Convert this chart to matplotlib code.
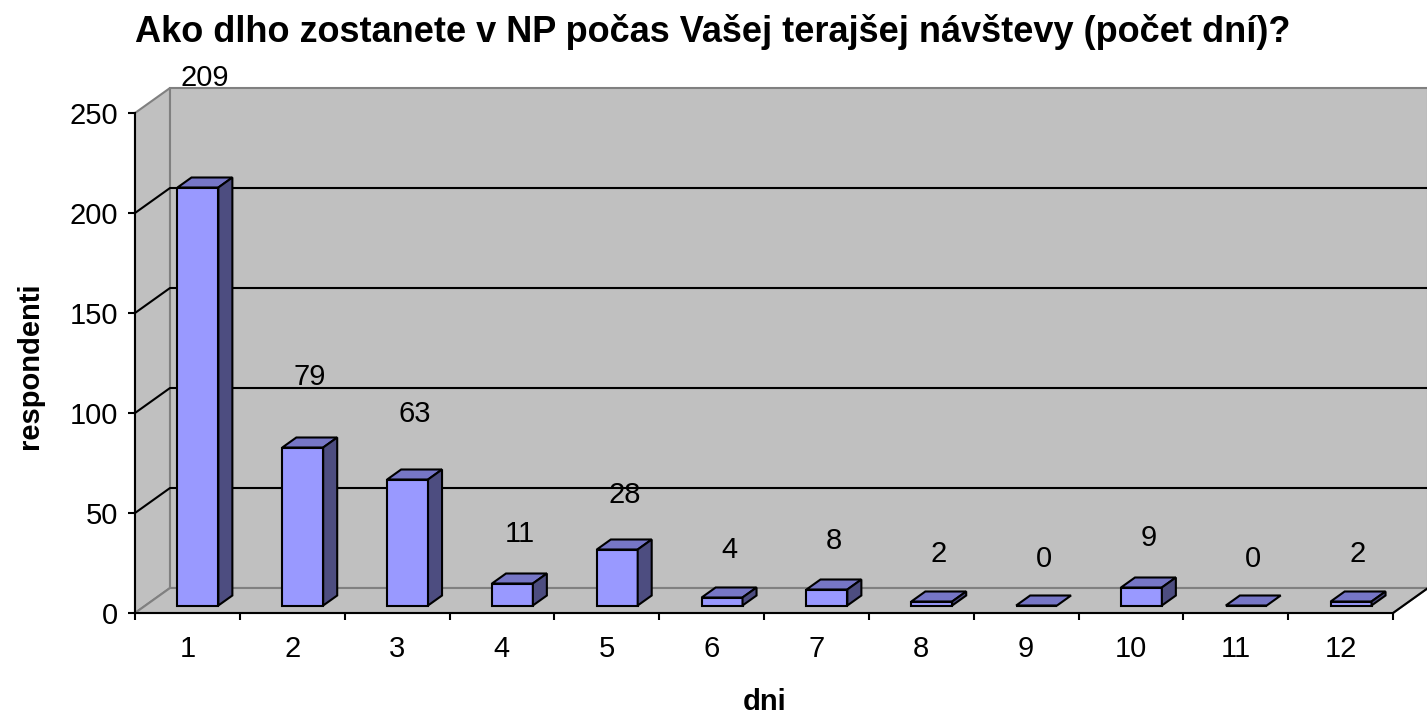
import matplotlib
matplotlib.use("Agg")
import matplotlib.pyplot as plt
from matplotlib.patches import Polygon
import numpy as np

plt.rcParams['font.family'] = ['Liberation Sans', 'DejaVu Sans']

# ── data ──────────────────────────────────────────
days = [1, 2, 3, 4, 5, 6, 7, 8, 9, 10, 11, 12]
respondents = [209, 79, 63, 11, 28, 4, 8, 2, 0, 9, 0, 2]
title = "Ako dlho zostanete v NP počas Vašej terajšej návštevy (počet dní)?"
xlabel = "dni"
ylabel = "respondenti"

# ── 3D look (Excel style) ─────────────────────────
DX, DY = 0.334, 12.5          # depth of the floor / walls in data units
front = 0.30                   # where bars start in the depth
depth = 0.40                   # bar depth as share of the full depth
bw = 0.39                      # bar width
wall = '#C0C0C0'
wall_edge = '#808080'
c_front, c_top, c_side = '#9999FF', '#7676C6', '#4D4D80'

fig = plt.figure(figsize=(14.27, 7.16), dpi=100)
ax = fig.add_axes([135 / 1427, 103 / 716, 1258 / 1427, 500 / 716])
ax.set_xlim(0.5, 12.5)
ax.set_ylim(0, 250)
ax.patch.set_visible(False)

x0, x1 = 0.5, 12.5
ymax = 250
# walls + floor
left_wall = Polygon([(x0, 0), (x0 + DX, DY), (x0 + DX, ymax + DY), (x0, ymax)],
                    closed=True, fc=wall, ec=wall_edge, lw=1.5, clip_on=False, zorder=0.5)
back_wall = Polygon([(x0 + DX, DY), (x1 + DX, DY), (x1 + DX, ymax + DY), (x0 + DX, ymax + DY)],
                    closed=True, fc=wall, ec=wall_edge, lw=1.5, clip_on=False, zorder=0.5)
floor = Polygon([(x0, 0), (x1, 0), (x1 + DX, DY), (x0 + DX, DY)],
                closed=True, fc=wall, ec=wall_edge, lw=1.5, clip_on=False, zorder=0.6)
for p in (left_wall, back_wall, floor):
    ax.add_patch(p)
ax.plot([x1, x1 + DX], [0, DY], color='black', lw=1.5, clip_on=False, zorder=0.7)

# gridlines
for v in [50, 100, 150, 200]:
    ax.plot([x0, x0 + DX, x1 + DX], [v, v + DY, v + DY], color='black', lw=1.5,
            clip_on=False, zorder=0.8)

# bars
xs = np.array(days, dtype=float)
vals = np.array(respondents, dtype=float)
fx = xs + front * DX
fy = front * DY
ddx, ddy = depth * DX, depth * DY
ax.bar(fx, vals, width=bw, bottom=fy, color=c_front, edgecolor='black', lw=1.5, zorder=3)
for cx, v in zip(fx, vals):
    l, r = cx - bw / 2, cx + bw / 2
    top = fy + v
    ax.add_patch(Polygon([(l, top), (r, top), (r + ddx, top + ddy), (l + ddx, top + ddy)],
                         closed=True, fc=c_top, ec='black', lw=1.5, zorder=3, clip_on=False))
    if v > 0:
        ax.add_patch(Polygon([(r, fy), (r + ddx, fy + ddy), (r + ddx, top + ddy), (r, top)],
                             closed=True, fc=c_side, ec='black', lw=1.5, zorder=3, clip_on=False))

# value labels
for cx, v in zip(fx, vals):
    ax.text(cx + ddx / 2, v * 1.15 + 27, f"{int(v)}", ha='center', va='center',
            fontsize=21, clip_on=False, zorder=4)

# axes
for s in ['top', 'right']:
    ax.spines[s].set_visible(False)
for s in ['left', 'bottom']:
    ax.spines[s].set_linewidth(1.5)
    ax.spines[s].set_zorder(2)
ax.set_yticks([0, 50, 100, 150, 200, 250])
ax.tick_params(axis='y', direction='out', length=5, width=1.5, labelsize=21, pad=7)
ax.set_xticks(np.arange(0.5, 13, 1))
ax.set_xticklabels([])
ax.tick_params(axis='x', which='major', direction='out', length=5, width=1.5)
ax.set_xticks(days, minor=True)
ax.set_xticklabels([str(d) for d in days], minor=True)
ax.tick_params(axis='x', which='minor', length=0, labelsize=21, pad=16)

fig.text(713 / 1427, 1 - 32 / 716, title, ha='center', va='center', fontsize=26, fontweight='bold')
fig.text(30 / 1427, 1 - 366 / 716, ylabel, ha='center', va='center', rotation=90,
         fontsize=21, fontweight='bold')
fig.text(765 / 1427, 1 - 702 / 716, xlabel, ha='center', va='center',
         fontsize=21, fontweight='bold')

fig.savefig("out.png", dpi=100)
